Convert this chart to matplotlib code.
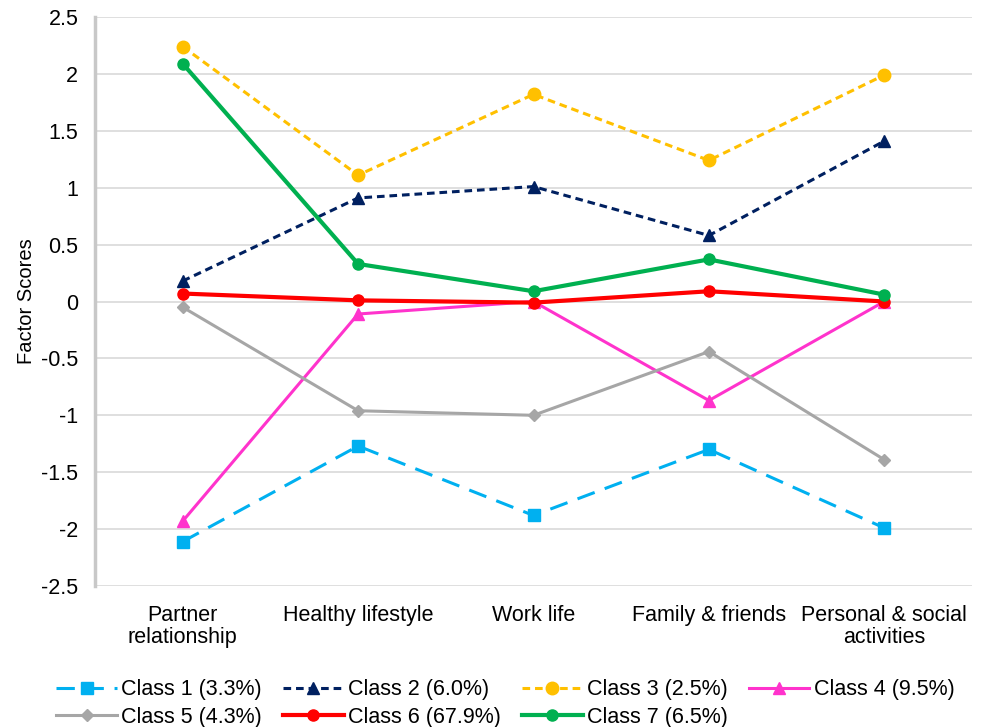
import matplotlib
matplotlib.use("Agg")
import matplotlib.pyplot as plt

plt.rcParams['font.family'] = ['Liberation Sans', 'DejaVu Sans']

# Categories and factor scores
categories = ["Partner\nrelationship", "Healthy lifestyle", "Work life",
              "Family & friends", "Personal & social\nactivities"]
class1 = [-2.11, -1.27, -1.88, -1.30, -1.99]
class2 = [0.18, 0.91, 1.01, 0.58, 1.41]
class3 = [2.24, 1.11, 1.82, 1.24, 1.99]
class4 = [-1.93, -0.11, 0.00, -0.87, 0.00]
class5 = [-0.05, -0.96, -1.00, -0.44, -1.39]
class6 = [0.07, 0.01, -0.01, 0.09, 0.00]
class7 = [2.09, 0.33, 0.09, 0.37, 0.06]
labels = ["Class 1 (3.3%)", "Class 2 (6.0%)", "Class 3 (2.5%)", "Class 4 (9.5%)",
          "Class 5 (4.3%)", "Class 6 (67.9%)", "Class 7 (6.5%)"]

fig = plt.figure(figsize=(9.86, 7.27), dpi=100)
ax = fig.add_axes([95/986, 1 - 586/727, (972 - 95)/986, (586 - 17)/727])

x = list(range(len(categories)))
fs = 15.5

# style per series: color, marker, markersize, linewidth, linestyle
styles = [
    ("#00B0F0", "s", 9, 2.2, (0, (6, 3.5))),
    ("#002060", "^", 9, 2.2, (0, (2.5, 1.6))),
    ("#FFC000", "o", 9, 2.2, (0, (2.5, 1.6))),
    ("#FF33CC", "^", 9, 2.2, "-"),
    ("#A6A6A6", "D", 6, 2.2, "-"),
    ("#FF0000", "o", 8, 3.0, "-"),
    ("#00B050", "o", 8, 3.0, "-"),
]
series = [class1, class2, class3, class4, class5, class6, class7]

handles = []
for vals, lab, (c, m, ms, lw, ls) in zip(series, labels, styles):
    h, = ax.plot(x, vals, color=c, marker=m, markersize=ms, linewidth=lw,
                 linestyle=ls, label=lab, zorder=3)
    handles.append(h)

ax.set_xlim(-0.5, len(categories) - 0.5)
ax.set_ylim(-2.5, 2.5)
ax.set_yticks([2.5, 2, 1.5, 1, 0.5, 0, -0.5, -1, -1.5, -2, -2.5])
ax.set_yticklabels(["2.5", "2", "1.5", "1", "0.5", "0", "-0.5", "-1", "-1.5", "-2", "-2.5"])
ax.set_xticks(x)
ax.set_xticklabels(categories, linespacing=1.05)
ax.tick_params(axis='both', length=0, labelsize=fs)
ax.tick_params(axis='x', pad=14)
ax.tick_params(axis='y', pad=12)
ax.grid(axis='y', color='#d9d9d9', linewidth=1.2)
ax.set_axisbelow(True)
for side in ["top", "right", "bottom"]:
    ax.spines[side].set_visible(False)
ax.spines["left"].set_color("#c8c8c8")
ax.spines["left"].set_linewidth(2.5)
ax.set_ylabel("Factor Scores", fontsize=14.5, labelpad=4)

# row-major legend ordering across 4 columns
order = [0, 4, 1, 5, 2, 6, 3]
fig.legend([handles[i] for i in order], [labels[i] for i in order],
           loc="upper left", bbox_to_anchor=(37/986, 1 - 660/727), ncol=4,
           frameon=False, fontsize=fs, handlelength=2.8, handletextpad=0.2,
           columnspacing=1.0, labelspacing=0.3)

fig.savefig("out.png", dpi=100)
